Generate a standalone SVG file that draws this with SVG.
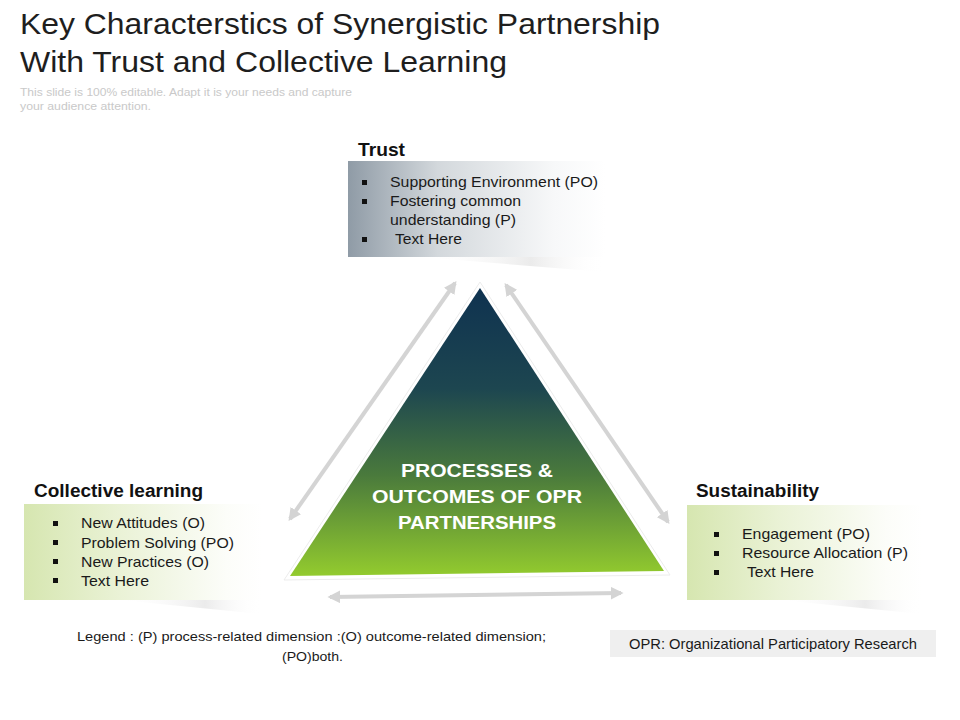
<svg xmlns="http://www.w3.org/2000/svg" width="960" height="720" viewBox="0 0 960 720">
<defs>
<linearGradient id="gTrust" x1="0" y1="0" x2="1" y2="0">
<stop offset="0" stop-color="#8f9ba6"/>
<stop offset="0.35" stop-color="#d3d8dc"/>
<stop offset="0.8" stop-color="#f7f8f9"/>
<stop offset="1" stop-color="#ffffff"/>
</linearGradient>
<linearGradient id="gGreen" x1="0" y1="0" x2="1" y2="0">
<stop offset="0" stop-color="#d6e6b0"/>
<stop offset="0.4" stop-color="#eaf2d6"/>
<stop offset="0.85" stop-color="#fcfdf9"/>
<stop offset="1" stop-color="#ffffff"/>
</linearGradient>
<linearGradient id="gShadow" x1="0" y1="0" x2="1" y2="0">
<stop offset="0" stop-color="#ffffff" stop-opacity="0"/>
<stop offset="0.6" stop-color="#ebebeb"/>
<stop offset="1" stop-color="#ffffff" stop-opacity="0"/>
</linearGradient>
<linearGradient id="gTri" x1="0" y1="0" x2="0" y2="1">
<stop offset="0" stop-color="#0f3250"/>
<stop offset="0.35" stop-color="#1d4650"/>
<stop offset="0.65" stop-color="#4a7a3c"/>
<stop offset="1" stop-color="#93cb2e"/>
</linearGradient>
<marker id="ah" viewBox="0 0 10 10" refX="8" refY="5" markerWidth="3.2" markerHeight="3.2" orient="auto-start-reverse" markerUnits="strokeWidth">
<path d="M0,0 L10,5 L0,10 z" fill="#d4d4d4"/>
</marker>
<style>
.title{font-family:"Liberation Sans",Arial,sans-serif;font-size:29px;fill:#1e1e1e}
.sub{font-family:"Liberation Sans",Arial,sans-serif;font-size:11.5px;fill:#c9c9c9}
.hd{font-family:"Liberation Sans",Arial,sans-serif;font-size:18px;font-weight:bold;fill:#111}
.bt{font-family:"Liberation Sans",Arial,sans-serif;font-size:15px;fill:#1a1a1a}
.tri{font-family:"Liberation Sans",Arial,sans-serif;font-size:18px;font-weight:bold;fill:#ffffff}
.lg{font-family:"Liberation Sans",Arial,sans-serif;font-size:13.5px;fill:#1a1a1a}
.bul{fill:#111}
.arr{stroke:#d4d4d4;stroke-width:4;fill:none;marker-start:url(#ah);marker-end:url(#ah)}
</style>
</defs>
<rect width="960" height="720" fill="#ffffff"/>
<text class="title" x="20" y="34" textLength="640" lengthAdjust="spacingAndGlyphs">Key Characterstics of Synergistic Partnership</text>
<text class="title" x="20" y="72" textLength="487" lengthAdjust="spacingAndGlyphs">With Trust and Collective Learning</text>
<text class="sub" x="20" y="96" textLength="332" lengthAdjust="spacingAndGlyphs">This slide is 100% editable. Adapt it is your needs and capture</text>
<text class="sub" x="20" y="110" textLength="131" lengthAdjust="spacingAndGlyphs">your audience attention.</text>

<g id="triangle">
<polygon points="480,282 284,580 670,575" fill="#ffffff" stroke="#ececec" stroke-width="1"/>
<polygon points="480,288 290,576 664,571" fill="url(#gTri)"/>
<text class="tri" x="401" y="477" textLength="152" lengthAdjust="spacingAndGlyphs">PROCESSES &amp;</text>
<text class="tri" x="372" y="503" textLength="210" lengthAdjust="spacingAndGlyphs">OUTCOMES OF OPR</text>
<text class="tri" x="398" y="529" textLength="158" lengthAdjust="spacingAndGlyphs">PARTNERSHIPS</text>
</g>

<g id="connectors">
<line class="arr" x1="290" y1="519" x2="455" y2="283"/>
<line class="arr" x1="506" y1="285" x2="668" y2="522"/>
<line class="arr" x1="330" y1="597" x2="621" y2="593"/>
</g>

<g id="trust">
<polygon points="420,257 605,257 605,272" fill="url(#gShadow)"/>
<rect x="348" y="161" width="257" height="96" fill="url(#gTrust)"/>
<text class="hd" x="358" y="156" textLength="47" lengthAdjust="spacingAndGlyphs">Trust</text>
<rect class="bul" x="362" y="180" width="5" height="5"/>
<text class="bt" x="390" y="187" textLength="208" lengthAdjust="spacingAndGlyphs">Supporting Environment  (PO)</text>
<rect class="bul" x="362" y="199" width="5" height="5"/>
<text class="bt" x="390" y="206" textLength="131" lengthAdjust="spacingAndGlyphs">Fostering common</text>
<text class="bt" x="390" y="225" textLength="126" lengthAdjust="spacingAndGlyphs">understanding  (P)</text>
<rect class="bul" x="362" y="237" width="5" height="5"/>
<text class="bt" x="395" y="244" textLength="67" lengthAdjust="spacingAndGlyphs">Text  Here</text>
</g>

<g id="collective">
<polygon points="120,600 262,600 262,614" fill="url(#gShadow)"/>
<rect x="24" y="504" width="238" height="96" fill="url(#gGreen)"/>
<text class="hd" x="34" y="497" textLength="169" lengthAdjust="spacingAndGlyphs">Collective learning</text>
<rect class="bul" x="53" y="521" width="5" height="5"/>
<text class="bt" x="81" y="528" textLength="124" lengthAdjust="spacingAndGlyphs">New Attitudes (O)</text>
<rect class="bul" x="53" y="540" width="5" height="5"/>
<text class="bt" x="81" y="548" textLength="153" lengthAdjust="spacingAndGlyphs">Problem Solving (PO)</text>
<rect class="bul" x="53" y="559" width="5" height="5"/>
<text class="bt" x="81" y="567" textLength="128" lengthAdjust="spacingAndGlyphs">New Practices (O)</text>
<rect class="bul" x="53" y="578" width="5" height="5"/>
<text class="bt" x="81" y="586" textLength="68" lengthAdjust="spacingAndGlyphs">Text  Here</text>
</g>

<g id="sustainability">
<polygon points="780,600 922,600 922,614" fill="url(#gShadow)"/>
<rect x="687" y="505" width="235" height="95" fill="url(#gGreen)"/>
<text class="hd" x="696" y="497" textLength="123" lengthAdjust="spacingAndGlyphs">Sustainability</text>
<rect class="bul" x="714" y="532" width="5" height="5"/>
<text class="bt" x="742" y="539" textLength="128" lengthAdjust="spacingAndGlyphs">Engagement (PO)</text>
<rect class="bul" x="714" y="551" width="5" height="5"/>
<text class="bt" x="742" y="558" textLength="166" lengthAdjust="spacingAndGlyphs">Resource Allocation (P)</text>
<rect class="bul" x="714" y="570" width="5" height="5"/>
<text class="bt" x="747" y="577" textLength="67" lengthAdjust="spacingAndGlyphs">Text  Here</text>
</g>

<g id="legend">
<text class="lg" x="77" y="641" textLength="469" lengthAdjust="spacingAndGlyphs">Legend : (P) process-related dimension :(O) outcome-related dimension;</text>
<text class="lg" x="282" y="661" textLength="61" lengthAdjust="spacingAndGlyphs">(PO)both.</text>
</g>

<g id="opr">
<rect x="610" y="630" width="326" height="27" fill="#efefef"/>
<text class="bt" x="629" y="649" textLength="288" lengthAdjust="spacingAndGlyphs">OPR: Organizational Participatory Research</text>
</g>
</svg>
